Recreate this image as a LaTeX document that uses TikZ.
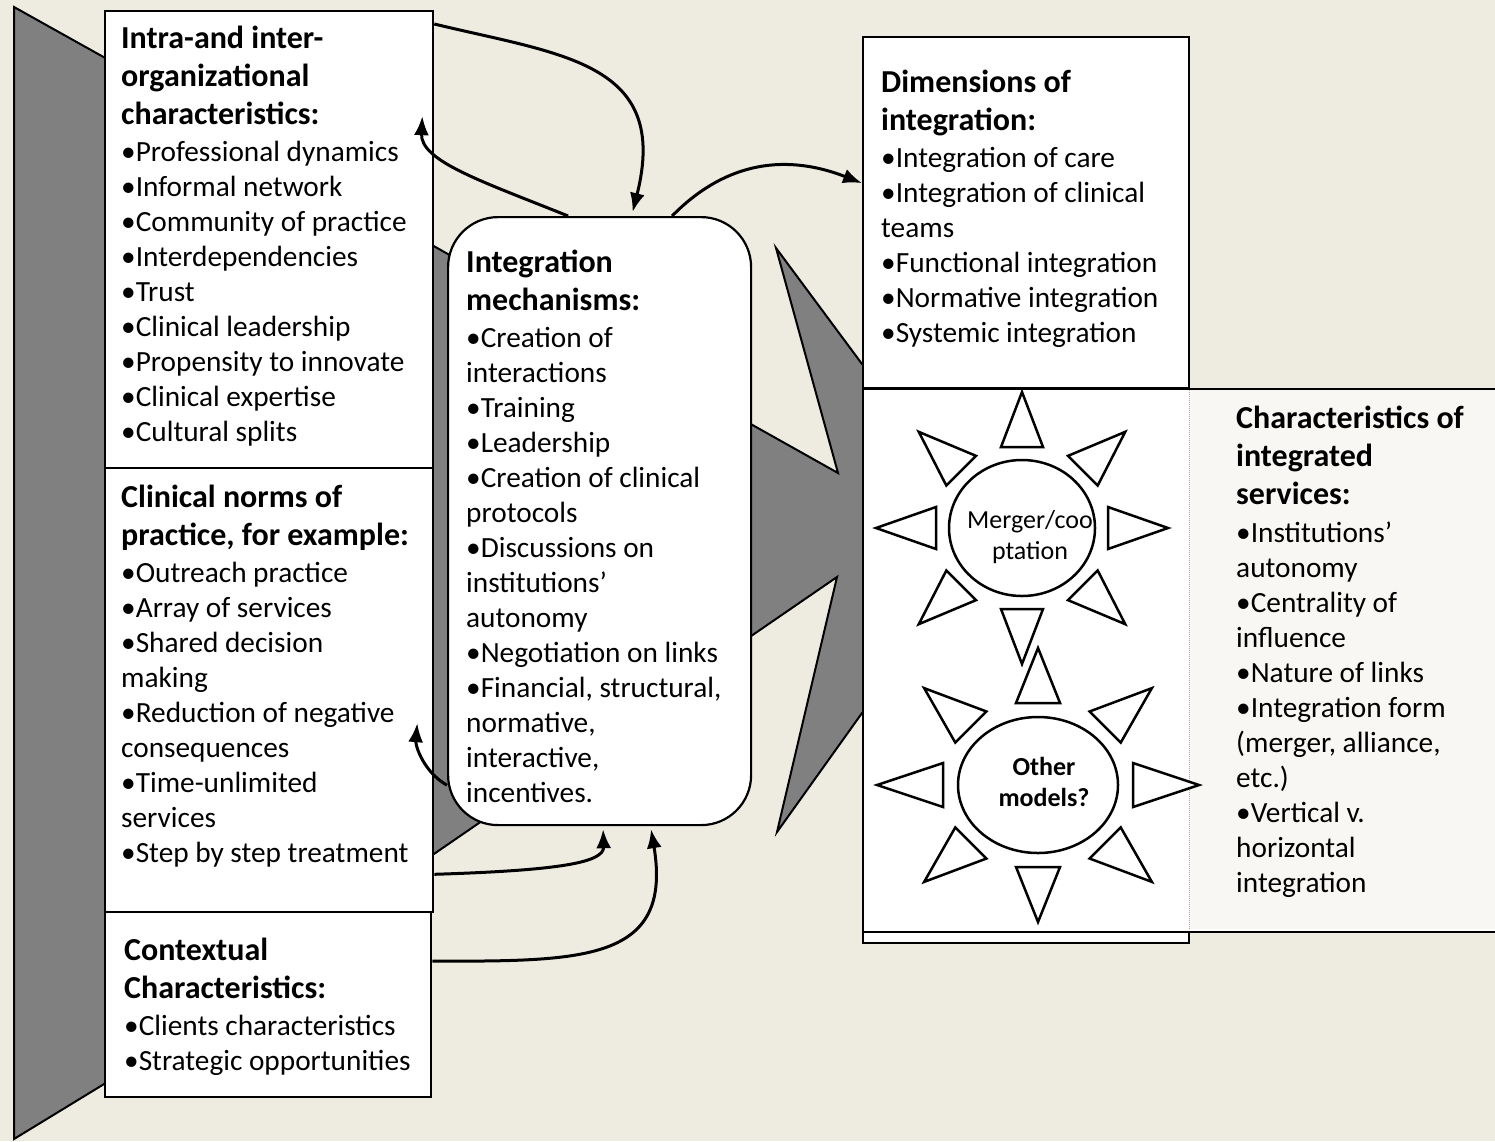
\documentclass[tikz,border=0pt]{standalone}
\usepackage{fontspec}
\setmainfont{Carlito}
\usetikzlibrary{positioning,arrows.meta,calc,shapes.geometric}
\definecolor{PaperTan}{RGB}{238,236,225}
\definecolor{WedgeGray}{RGB}{128,128,128}
\definecolor{PanelWhite}{RGB}{248,247,243}
\newcommand{\hd}[1]{{\fontsize{32}{38}\selectfont\bfseries #1}}

\begin{document}
\begin{tikzpicture}[x=1pt, y=-1pt, font=\fontsize{29.3}{35}\selectfont, every node/.style={align=left, inner sep=0pt}]
\tikzset{
  frame/.style={draw, line width=2.3pt, fill=white, anchor=north west},
  txt/.style={anchor=north west},
  wedge/.style={draw, line width=2pt, fill=WedgeGray, line join=miter},
  arr/.style={-{Latex[length=19pt,width=15pt]}, line width=3pt},
  ray/.style={draw, line width=2.5pt, fill=white, line join=miter},
  sunc/.style={ellipse, draw, line width=2.5pt, fill=white}
}
\useasboundingbox (0,0) rectangle (1495,1141);
\fill[PaperTan] (0,0) rectangle (1495,1141);

% grey wedges behind the boxes
\draw[wedge] (14,7) -- (150,83) -- (150,1056) -- (14,1139) -- cycle;
\draw[wedge] (300,171) -- (838,473) -- (776,248) -- (862,364) -- (960,420)
  -- (960,680) -- (862,713) -- (777,832) -- (837,577) -- (300,946) -- cycle;

% left column
\node[frame, minimum width=328pt, minimum height=457pt] (orgbox) at (104,10) {};
\node[frame, minimum width=328pt, minimum height=444pt] (normbox) at (104,467) {};
\node[frame, minimum width=326pt, minimum height=185pt] (ctxbox) at (104,911) {};

\node[txt] (orgtxt) at (121,26) {\hd{Intra-and inter-}\\[3pt]\hd{organizational}\\[3pt]\hd{characteristics:}\\[2pt]
  •Professional dynamics\\•Informal network\\•Community of practice\\•Interdependencies\\•Trust\\
  •Clinical leadership\\•Propensity to innovate\\•Clinical expertise\\•Cultural splits};
\node[txt] (normtxt) at (121,485) {\hd{Clinical norms of}\\[3pt]\hd{practice, for example:}\\[2pt]
  •Outreach practice\\•Array of services\\•Shared decision\\making\\•Reduction of negative\\
  consequences\\•Time-unlimited\\services\\•Step by step treatment};
\node[txt] (ctxtxt) at (124,938) {\hd{Contextual}\\[3pt]\hd{Characteristics:}\\[2pt]
  •Clients characteristics\\•Strategic opportunities};

% centre
\node[frame, rounded corners=50pt, line width=2.2pt, minimum width=303pt, minimum height=608pt] (mechbox) at (447,216) {};
\node[txt] (mechtxt) at (466,250) {\hd{Integration}\\[3pt]\hd{mechanisms:}\\[2pt]
  •Creation of\\interactions\\•Training\\•Leadership\\•Creation of clinical\\protocols\\
  •Discussions on\\institutions’\\autonomy\\•Negotiation on links\\•Financial, structural,\\
  normative,\\interactive,\\incentives.};

% right side
\node[frame, minimum width=326pt, minimum height=906pt] (dimsback) at (862,36) {};
\node[frame, minimum width=326pt, minimum height=351pt] (dimsbox) at (862,36) {};
\node[txt] (dimstxt) at (881,70) {\hd{Dimensions of}\\[3pt]\hd{integration:}\\[2pt]
  •Integration of care\\•Integration of clinical\\teams\\•Functional integration\\
  •Normative integration\\•Systemic integration};

\node[frame, minimum width=660pt, minimum height=543pt] (charbox) at (862,388) {};
\node[anchor=north west, fill=PanelWhite, minimum width=320pt, minimum height=539pt] (charpanel) at (1189,390) {};
\draw[densely dotted, gray!70, line width=1pt] (charpanel.north west) -- (charpanel.south west);
\node[txt] (chartxt) at (1236,406) {\hd{Characteristics of}\\[3pt]\hd{integrated}\\[3pt]\hd{services:}\\[3pt]
  •Institutions’\\autonomy\\•Centrality of\\influence\\•Nature of links\\•Integration form\\
  (merger, alliance,\\etc.)\\•Vertical v.\\horizontal\\integration};

% suns
\node[sunc, minimum width=146pt, minimum height=136pt] (mergersun) at (1022,528) {};
\foreach \a in {0,45,...,315}
  \draw[ray] ($(mergersun.center)+({86*cos(\a)-21*sin(\a)},{81*sin(\a)+21*cos(\a)})$)
    -- ($(mergersun.center)+({146*cos(\a)},{136*sin(\a)})$)
    -- ($(mergersun.center)+({86*cos(\a)+21*sin(\a)},{81*sin(\a)-21*cos(\a)})$) -- cycle;
\node[font=\fontsize{26}{31}\selectfont, align=center] (mergertxt) at (1030,537) {Merger/coo\\ptation};

\node[sunc, minimum width=160pt, minimum height=136pt] (othersun) at (1038,785) {};
\foreach \a in {0,45,...,315}
  \draw[ray] ($(othersun.center)+({95*cos(\a)-22*sin(\a)},{82*sin(\a)+22*cos(\a)})$)
    -- ($(othersun.center)+({161*cos(\a)},{137*sin(\a)})$)
    -- ($(othersun.center)+({95*cos(\a)+22*sin(\a)},{82*sin(\a)-22*cos(\a)})$) -- cycle;
\node[font=\fontsize{26}{31}\selectfont\bfseries, align=center] (othertxt) at (1044,782) {Other\\models?};

% arrows
\draw[arr] ([yshift=-14pt]orgbox.north east) .. controls +(128,31) and +(38,-150) .. ([xshift=33pt,yshift=4pt]mechbox.north);
\draw[arr] ([xshift=-31.5pt]mechbox.north) .. controls +(-87,-35) and +(-2,45) .. ([xshift=-12pt,yshift=123.5pt]orgbox.east);
\draw[arr] ([xshift=72.5pt]mechbox.north) .. controls +(49,-50) and +(-82,-32) .. ([yshift=29.5pt]dimsbox.west);
\draw[arr] ([yshift=41pt]mechbox.south west) .. controls +(-23,-13) and +(-2,23) .. ([xshift=-17pt,yshift=-33pt]normbox.east);
\draw[arr] ([yshift=39pt]normbox.south east) .. controls +(128,-4) and +(1,33) .. ([xshift=3.5pt,yshift=-3pt]mechbox.south);
\draw[arr] ([yshift=43.5pt]ctxbox.east) .. controls +(150,0) and +(22,133) .. ([xshift=51.5pt,yshift=-3pt]mechbox.south);
\end{tikzpicture}
\end{document}
